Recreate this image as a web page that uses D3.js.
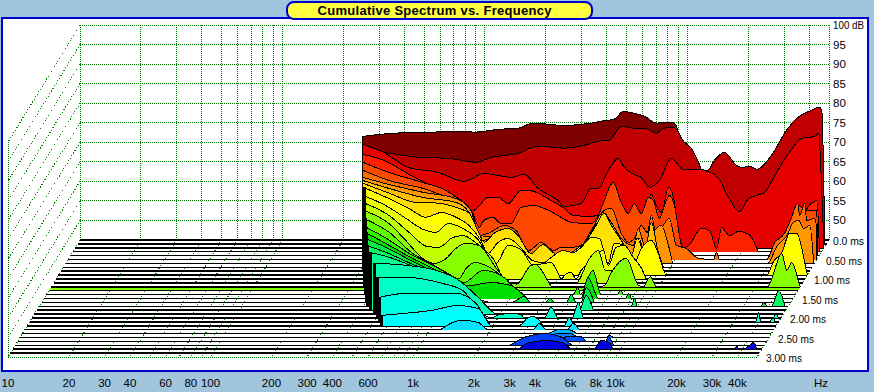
<!DOCTYPE html>
<html>
<head>
<meta charset="utf-8">
<script src="https://d3js.org/d3.v7.min.js"></script>
<style>
  html, body { margin: 0; padding: 0; background: #a0c5dd; overflow: hidden; }
  svg { display: block; }
  text { font-family: "Liberation Sans", Arial, sans-serif; fill: #000; }
</style>
</head>
<body>
<div id="waterfall"></div>
<script>
// tick labels
var freqTicks = [10, 20, 30, 40, 50, 60, 70, 80, 90, 100, 200, 300, 400, 500, 600, 700, 800, 900, 1000,
    2000, 3000, 4000, 5000, 6000, 7000, 8000, 9000, 10000, 20000, 30000, 40000, 50000];
var freqLabels = [[10, "10"], [20, "20"], [30, "30"], [40, "40"], [60, "60"], [80, "80"], [100, "100"],
    [200, "200"], [300, "300"], [400, "400"], [600, "600"], [1000, "1k"], [2000, "2k"], [3000, "3k"],
    [4000, "4k"], [6000, "6k"], [8000, "8k"], [10000, "10k"], [20000, "20k"], [30000, "30k"], [40000, "40k"]];
var dbTicks = [100, 95, 90, 85, 80, 75, 70, 65, 60, 55, 50];
var msTicks = [0, 0.5, 1, 1.5, 2, 2.5, 3];
var msLabels = ["0.0 ms", "0.50 ms", "1.00 ms", "1.50 ms", "2.00 ms", "2.50 ms", "3.00 ms"];
var markerMs = 1.25;

// one [Hz, dB] list per time slice, 0.1 ms apart, 45 dB is the floor
var slice00 = [[249,71.5],[350,72.3],[553,72.6],[750,72.8],[890,72.6],[1160,73.3],[1457,73.6],[1728,74.9],[2460,74.3],[3350,74.9],[3750,75.4],[4350,75.9],[4819,77.9],[5470,77.4],[6120,76.7],[7020,74.9],[7690,75.1],[8620,74.9],[9330,70.5],[10450,67.9],[11330,64.3],[12400,61.5],[13600,64.1],[15240,66.1],[17470,62.8],[21900,61.8],[25800,65.4],[30900,71.8],[34650,74.9],[40700,76.9],[45200,78.2],[46500,77]];
var slice01 = [[256,68.9],[325,68.4],[495,67.1],[675,66.9],[927,65.9],[1100,67.1],[1500,68.2],[1880,70],[2530,69.5],[3170,70.2],[3770,71.3],[4220,71.5],[4840,75.1],[5620,74.6],[6300,74.6],[7210,73.3],[7820,74.6],[8760,74.8],[9280,73.6],[9590,72],[10750,69.4],[11650,65.9],[12050,64.1],[12900,63.8],[13970,66.4],[15680,68.4],[17950,65.1],[19000,64.6],[20850,64.8],[22600,64.1],[26750,67.7],[31700,74.1],[35600,77.1],[42200,79.2],[46200,80],[47300,79.2],[49000,45]];
var slice02 = [[262,71.5],[334,69.4],[440,65.6],[618,64.3],[832,62],[1045,64],[1225,63.5],[1420,63],[1650,63.8],[1930,60.2],[2425,57.1],[2600,55.6],[3150,56.3],[3530,60.2],[3830,60.2],[4290,64.8],[4800,67.9],[5140,65.6],[5700,63.8],[6250,63],[6850,60.5],[7680,62.2],[8800,67.9],[10080,65],[12400,65],[13570,64.3],[15030,62.8],[16830,57.9],[19090,54.3],[21150,57.6],[23170,58.4],[25400,59.2],[28500,63.5],[33400,69.2],[38700,73],[44900,73.5],[47000,74.3],[47500,71.7],[48600,59.7],[49700,47.6]];
var slice03 = [[270,69.9],[342,68.4],[467,64.5],[657,60.7],[826,58.1],[915,55.6],[955,55.6],[1125,58.9],[1262,58.9],[1410,57.3],[1640,60.7],[1780,60.7],[2305,58.1],[2670,56.1],[2960,54.3],[3640,54],[4560,55.6],[5740,52.5],[6800,56.8],[7200,59.7],[7620,56.8],[8070,55],[8750,61.5],[9260,58.9],[9830,49.6],[10370,46],[11020,46.6],[12720,51],[13950,50.4],[15130,45.8],[16000,51.2],[17500,49.1],[19400,50.2],[21800,49.4],[23800,46.1],[24300,45],[28000,45],[33500,47.9],[39800,54.3],[47300,58.1],[48700,45]];
var slice04 = [[277,68.9],[373,66.3],[550,63.7],[715,61.7],[898,57.8],[970,56],[1043,52.2],[1100,54],[1220,54.8],[1340,53.2],[1500,53.2],[1680,57.3],[1950,57.8],[2290,56.6],[2650,54.8],[2970,53.5],[3740,53.2],[4050,55.3],[4330,59.1],[4790,63.7],[5250,58.6],[5690,55.8],[6100,58.3],[6590,55.8],[7150,59.9],[7570,59.1],[8100,54.5],[8580,57.8],[9080,60.4],[9620,57.8],[10180,50.1],[10780,45],[30700,45],[34300,50.1],[39400,57.8],[43300,56.6],[48500,56.6],[49000,45]];
var slice05 = [[286,67.8],[385,65.2],[565,63.2],[712,61.4],[797,60.6],[923,58.1],[1000,56.3],[1070,51.1],[1190,51.7],[1425,53.7],[1633,52.4],[1890,47.3],[2170,49.4],[2510,47.3],[2726,48.1],[3055,48.1],[3424,48.6],[3837,52.4],[4450,57.6],[4819,58.1],[5400,51.7],[5850,49.4],[6270,50.4],[6784,53.7],[7260,51.9],[7600,56.3],[8130,49.9],[8710,53.7],[9330,55.5],[10110,48.6],[11330,47.8],[13000,45.3],[15400,45],[15950,46.8],[16500,45],[28200,45],[30900,49.3],[34600,51.7],[37480,55.8],[40100,59.4],[41100,56.3],[43500,59.4],[44470,55],[48800,55.5],[49840,52.4],[50000,45]];
var slice06 = [[294,67],[395,65.2],[580,63.2],[847,61.6],[1005,58.5],[1100,52.1],[1262,51.9],[1463,51.6],[1640,47],[1920,47],[2230,48.3],[2590,47],[3145,47.3],[3600,48.8],[4040,53.9],[4520,58],[4950,55.5],[5550,51.4],[6360,49.6],[6730,53.9],[7380,48.3],[8000,52.9],[8760,54.7],[9490,49.6],[10050,45],[29300,45],[32500,49.3],[36500,52.1],[39300,55.5],[41800,56],[44200,53.9],[47300,54.7],[49500,45]];
var slice07 = [[302,67.2],[405,65.2],[592,62.9],[870,61.6],[1012,59],[1093,55.2],[1172,51.9],[1297,52.4],[1538,53.7],[1724,51.9],[1985,48],[2240,49.3],[2630,47.8],[3155,48.3],[3620,50.1],[4050,53.7],[4530,58.5],[4870,55],[5320,50.6],[5800,49.8],[6520,48],[7000,52.4],[7400,48],[8030,56.5],[8600,49.8],[9200,45]];
var slice08 = [[310,67.5],[417,65],[567,62.6],[740,62.4],[895,61.3],[1040,59.8],[1165,54.6],[1232,52.4],[1380,54.7],[1620,55.9],[1815,54.1],[2100,49.5],[2410,51.8],[2700,49.8],[3030,48.2],[3440,50.3],[3845,52.3],[4310,55.9],[4830,59.8],[5230,56.7],[5860,52.9],[6560,49],[7030,53.4],[7800,47.2],[8220,45]];
var slice09 = [[318,67.5],[428,64.6],[537,62.1],[653,59.8],[775,61],[921,59.8],[1065,57.7],[1220,53.9],[1320,50.5],[1480,53.3],[1660,54.4],[1925,52],[2200,48.7],[2500,48.2],[2710,49.5],[3110,51.3],[3480,50.8],[3820,52.1],[4280,54.6],[4690,54.4],[5190,48],[5560,53.1],[6240,52.6],[6990,48.2],[7570,51.8],[8490,53.9],[9180,50.5],[10060,45],[31400,45],[34300,48.8],[37200,50.5],[40900,55.7],[44300,55.7],[49100,46.9],[50000,45]];
var slice10 = [[327,66.4],[425,63.8],[535,60.5],[650,57.7],[750,56.9],[865,59.2],[1025,57.9],[1190,55.6],[1490,49],[1710,53.6],[2000,52.3],[2270,48.5],[2575,49],[2790,49.2],[3020,46.4],[3130,45],[3310,46.4],[3500,46.7],[3700,45],[3920,47.2],[4250,49],[4650,51.5],[5050,52.3],[5340,48.4],[5840,53.1],[6410,53.6],[7100,50.5],[7800,47.7],[8220,45]];
var slice11 = [[336,65.6],[452,62.3],[570,57.9],[700,54.3],[800,54.1],[935,56.6],[1050,57.1],[1262,54.6],[1480,51.2],[1740,45],[3810,45],[4420,51.2],[4900,53.3],[5300,48.2],[5680,48.2],[6000,45]];
var slice12 = [[348,64.6],[465,61.2],[563,56.9],[685,52.2],[775,51],[890,52.2],[995,54.8],[1115,56.1],[1297,55.6],[1570,49.9],[1770,46.6],[1985,45.7],[2350,50.5],[2480,50.7],[2680,48.7],[3000,45],[5000,45],[5400,45.3],[5800,48.4],[6920,52.3],[7960,45.3],[8400,45],[9100,47.6],[9750,45],[34400,45],[40600,53.5],[42900,49.2],[45400,51.2],[49700,45.4],[50000,45]];
var slice13 = [[360,63.5],[478,60],[628,54.5],[770,52],[915,49.7],[1060,48.1],[1150,50.7],[1285,52.2],[1500,51],[1710,48.9],[1850,47.6],[2030,45]];
var slice14 = [[370,62.5],[477,59.4],[645,55],[810,52.5],[990,49.9],[1155,48.1],[1435,51.2],[1820,49.4],[2200,45],[4000,45],[4220,47],[4340,45],[5000,51.2],[5490,45],[6590,45],[6830,46.1],[7070,45]];
var slice15 = [[385,61.9],[487,59.1],[663,55.2],[832,52.7],[1025,49.6],[1262,48.3],[1615,49.1],[2030,48.3],[2270,46.5],[2460,45],[4480,45],[4860,50.4],[5490,45],[7430,45],[7690,46.3],[7960,45]];
var slice16 = [[395,61.4],[500,59.1],[680,55.5],[855,52.9],[1050,49.8],[1320,46.8],[1660,45],[2080,45],[2420,46.5],[2610,45],[3080,45],[3240,46],[3440,45],[3900,45],[4120,47],[4360,45],[4620,45],[4900,48.8],[5360,45]];
var slice17 = [[410,60.6],[515,58.8],[700,55.7],[880,53.4],[1085,49.6],[1360,45],[8400,45],[8700,47],[9000,45],[36600,45],[37800,46],[39600,45],[41400,45],[44900,49.1],[48100,45]];
var slice18 = [[435,59.8],[530,58.8],[720,56.2],[905,53.9],[1115,50],[1390,45],[4780,45],[5170,48.8],[5600,45]];
var slice19 = [[470,58],[682,57.5],[960,56.2],[1210,54.1],[1575,49],[1800,45.9],[1900,45]];
var slice20 = [[498,55.4],[700,55.4],[1070,53.8],[1345,52],[1615,46.9],[1850,45],[2030,45.9],[2380,46.1],[2600,45.9],[2700,45],[3390,45],[3660,47.7],[3980,45],[4650,45],[5000,49],[5300,45],[46000,45],[47000,46.1],[48700,45]];
var slice21 = [[525,51.2],[720,52.3],[1270,52.3],[1605,49.7],[1860,45],[38500,45],[39800,47.4],[40800,45],[45200,45],[46900,46.1],[47900,45]];
var slice22 = [[550,47.6],[700,48.1],[985,48.9],[1345,50.2],[1690,49.4],[1905,45.6],[1955,45],[2680,45],[2975,47.1],[3155,47.4],[3380,46.4],[3570,45],[4490,45],[4750,47.1],[5000,45]];
var slice23 = [[1130,45],[1430,47.4],[1730,46.9],[1945,45],[3240,45],[3470,46.6],[3770,45],[4770,45],[5110,46.6],[5480,45]];
var slice24 = [[4000,45],[4500,46.1],[4900,46.1],[5490,45]];
var slice25 = [[3980,45],[4600,46.1],[5150,46.1],[5870,45],[7900,45],[8130,45.5],[8520,45]];
var slice26 = [[4540,45],[5300,46.3],[5960,46.3],[6440,45]];
var slice27 = [[2780,45],[3340,47.2],[4100,48],[5140,46.7],[5700,45],[8110,45],[8500,47.2],[9000,45]];
var slice28 = [[3130,45],[3560,46.7],[4410,47.2],[5290,46.5],[5740,45],[7370,45],[8070,47.2],[8840,46.7],[9280,45],[36700,45],[37600,45.7],[38500,45],[40300,45],[42100,45.4],[45600,46.7],[47300,45]];
var slice29 = [];

var sliceColors = ["#800000", "#c00000", "#e60000", "#ff2000", "#ff4800", "#ff7000", "#ff9800", "#ffc000", "#ffe000", "#ffff00",
    "#e8ff00", "#c0ff00", "#88ff00", "#60ff00", "#30f000", "#00e000", "#00f040", "#00ff60", "#00ff90", "#00ffb0",
    "#00ffc8", "#00ffe0", "#00ffff", "#00e4ff", "#00b0ff", "#0080ff", "#0050ff", "#0040ff", "#0000e0", "#0000c0"];

var slices = [slice00, slice01, slice02, slice03, slice04, slice05, slice06, slice07, slice08, slice09,
    slice10, slice11, slice12, slice13, slice14, slice15, slice16, slice17, slice18, slice19,
    slice20, slice21, slice22, slice23, slice24, slice25, slice26, slice27, slice28, slice29];

var width = 874, height = 392;
var svg = d3.select("#waterfall").append("svg")
    .attr("width", width)
    .attr("height", height);

// scales for the back wall, and the shift that a point gets going forward in time
var xscale = d3.scaleLog().domain([10, 50000]).range([80, 829]);
var yscale = d3.scaleLinear().domain([45, 100]).range([240, 25]);
var dxscale = d3.scaleLinear().domain([0, 3]).range([0, -72]);
var dyscale = d3.scaleLinear().domain([0, 3]).range([0, 117]);
var frontX = function (hz) { return xscale(hz) + dxscale(3); };
var floorY = yscale(45);

// frame
svg.append("rect").attr("x", 2).attr("y", 18).attr("width", 866).attr("height", 353)
    .attr("fill", "#fff").attr("stroke", "#0000cc").attr("stroke-width", 2);

// title pill
svg.append("rect").attr("x", 287).attr("y", 2).attr("width", 305).attr("height", 17).attr("rx", 7)
    .attr("fill", "#ffff40").attr("stroke", "#0000cc").attr("stroke-width", 2);
svg.append("text").attr("x", 434.5).attr("y", 15).attr("text-anchor", "middle")
    .style("font-size", "13px").style("font-weight", "bold")
    .attr("textLength", 234).attr("lengthAdjust", "spacing")
    .text("Cumulative Spectrum vs. Frequency");

// dotted grid, drawn first so the slices go over it
var grid = svg.append("g").attr("fill", "none").attr("stroke", "#008000")
    .attr("stroke-dasharray", "1 1").attr("shape-rendering", "crispEdges");

dbTicks.forEach(function (db) {
    grid.append("line").attr("x1", xscale(10)).attr("x2", xscale(50000))
        .attr("y1", yscale(db)).attr("y2", yscale(db));
    grid.append("line").attr("x1", xscale(10)).attr("x2", frontX(10))
        .attr("y1", yscale(db)).attr("y2", yscale(db) + dyscale(3))
        .attr("stroke-dasharray", "1 2");
});
freqTicks.forEach(function (hz) {
    grid.append("line").attr("x1", xscale(hz)).attr("x2", xscale(hz))
        .attr("y1", yscale(100)).attr("y2", floorY);
    grid.append("line").attr("x1", xscale(hz)).attr("x2", frontX(hz))
        .attr("y1", floorY).attr("y2", floorY + dyscale(3))
        .attr("stroke-dasharray", "1 2");
});
// left side of the box and front edge
grid.append("line").attr("x1", frontX(10)).attr("x2", frontX(10))
    .attr("y1", yscale(100) + dyscale(3)).attr("y2", floorY + dyscale(3));
grid.append("line").attr("x1", frontX(10)).attr("x2", frontX(50000))
    .attr("y1", floorY + dyscale(3)).attr("y2", floorY + dyscale(3));

// slices, back to front
var plot = svg.append("g");
slices.forEach(function (slice, k) {
    var ms = k * 0.1;
    var dx = dxscale(ms), dy = dyscale(ms);
    var sliceFloor = floorY + dy;
    var g = plot.append("g").attr("shape-rendering", "crispEdges");

    // the floor line of this slice
    g.append("line")
        .attr("x1", xscale(10) + dx).attr("x2", xscale(50000) + dx)
        .attr("y1", sliceFloor).attr("y2", sliceFloor)
        .attr("stroke", "#000").attr("stroke-width", 1.5);

    if (slice.length > 0) {
        var px = function (d) { return xscale(Math.min(d[0], 50000)) + dx; };
        var py = function (d) { return Math.min(yscale(d[1]) + dy, sliceFloor); };
        var area = d3.area().x(px).y0(sliceFloor).y1(py).curve(d3.curveMonotoneX);
        var line = d3.line().x(px).y(py).curve(d3.curveMonotoneX);
        var first = slice[0], last = slice[slice.length - 1];
        g.append("path").datum(slice).attr("d", area)
            .attr("fill", sliceColors[k]).attr("stroke", "none");
        g.append("path").datum(slice).attr("d", line)
            .attr("fill", "none").attr("stroke", "#000");
        // side edges, the later slices stack up into a black wedge on the left
        g.append("line")
            .attr("x1", px(first) + (k >= 9 ? 1.5 : 0)).attr("x2", px(first) + (k >= 9 ? 1.5 : 0))
            .attr("y1", py(first)).attr("y2", sliceFloor)
            .attr("stroke", "#000").attr("stroke-width", k >= 9 ? 3 : 1);
        g.append("line").attr("x1", px(last)).attr("x2", px(last))
            .attr("y1", py(last)).attr("y2", sliceFloor)
            .attr("stroke", "#000");
    }

    // bright line just in front of the 1.2 ms slice
    if (k === 12) {
        g.append("line")
            .attr("x1", xscale(10) + dxscale(markerMs)).attr("x2", xscale(50000) + dxscale(markerMs))
            .attr("y1", floorY + dyscale(markerMs)).attr("y2", floorY + dyscale(markerMs))
            .attr("stroke", "#80ff00").attr("stroke-width", 1.5);
    }
});

// dB labels
var labels = svg.append("g").style("font-size", "11.5px");
dbTicks.forEach(function (db) {
    var t = labels.append("text").attr("x", xscale(50000) + 4).attr("y", yscale(db) + 4)
        .text(db === 100 ? "100 dB" : db);
    if (db === 100) t.attr("textLength", 31).attr("lengthAdjust", "spacingAndGlyphs");
});
// time labels
msTicks.forEach(function (ms, i) {
    labels.append("text")
        .attr("x", xscale(50000) + dxscale(ms) + (i === 0 ? 4 : 9))
        .attr("y", floorY + dyscale(ms) + 5)
        .attr("textLength", i === 0 ? 31 : 36).attr("lengthAdjust", "spacingAndGlyphs")
        .text(msLabels[i]);
});
// frequency labels
freqLabels.forEach(function (d) {
    labels.append("text").attr("x", frontX(d[0])).attr("y", 387)
        .attr("text-anchor", "middle").text(d[1]);
});
labels.append("text").attr("x", 821).attr("y", 387).attr("text-anchor", "middle").text("Hz");
</script>
</body>
</html>
